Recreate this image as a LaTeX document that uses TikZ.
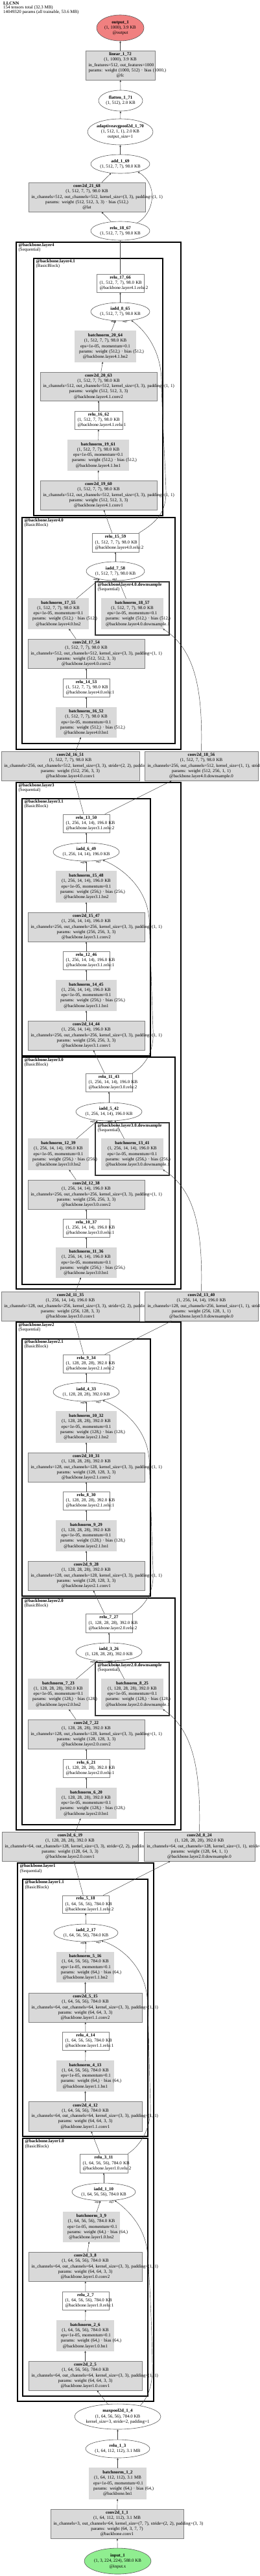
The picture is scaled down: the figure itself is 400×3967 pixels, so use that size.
\documentclass[tikz,border=0pt]{standalone}
\usepackage{fontspec}
\setmainfont{Liberation Serif}
\usetikzlibrary{arrows.meta,shapes.geometric}
\definecolor{gfill}{RGB}{217,217,217}
\definecolor{boxline}{RGB}{128,128,128}
\definecolor{ovline}{RGB}{90,90,90}
\definecolor{edgecol}{RGB}{60,60,60}
\definecolor{outfill}{RGB}{240,128,128}
\definecolor{infill}{RGB}{144,238,144}
\newcommand\zl[1]{\makebox[0pt]{#1}}
\newcommand\BNT[4]{\textbf{#1}\\\mbox{#2}\\\mbox{eps=1e-05, momentum=0.1}\\\mbox{params: weight (#3,) · bias (#3,)}\\\mbox{#4}}
\newcommand\CVT[5]{\textbf{#1}\\\mbox{#2}\\\mbox{#3}\\\mbox{params: weight #4}\\\mbox{#5}}
\newcommand\RLT[3]{\textbf{#1}\\\mbox{#2}\\\mbox{#3}}
\newcommand\OVT[2]{\zl{\textbf{#1}}\\\zl{#2}}
\tikzset{
  nbase/.style={font=\fontsize{6.9}{8.3}\selectfont, align=center, inner ysep=1pt},
  gbox/.style={nbase, rectangle, draw=boxline, fill=gfill, inner xsep=4.5pt, line width=0.6pt},
  wbox/.style={nbase, rectangle, draw=boxline, fill=white, inner xsep=4.5pt, line width=0.6pt},
  bnbox/.style={nbase, rectangle, draw=boxline, fill=gfill, double=gfill, double distance=1.3pt, line width=0.5pt, inner xsep=6pt},
  ovl/.style={nbase, ellipse, draw=ovline, fill=white, inner sep=0pt, line width=0.6pt},
  conn/.style={draw=edgecol, line width=0.45pt, -{Triangle[length=2.8pt,width=2.4pt]}},
  clus/.style={draw=black, line width=1.6pt},
  dsclus/.style={draw=black!80, line width=1.2pt},
  clabel/.style={anchor=north west, align=left, inner sep=0pt, font=\fontsize{6.9}{6.2}\selectfont},
  argl/.style={inner sep=0pt, font=\fontsize{4.5}{5}\selectfont},
}
\begin{document}
\begin{tikzpicture}[x=1pt,y=-1pt]
\useasboundingbox (0,0) rectangle (400,3967);
\fill[white] (0,0) rectangle (400,3967);
\clip (0,0) rectangle (400,3967);

\node[anchor=north west, align=left, inner sep=0pt, font=\fontsize{6.9}{5.8}\selectfont] (title) at (5,3) {\textbf{LLCNN}\\154 tensors total (32.3 MB)\\14049320 params (all trainable, 53.6 MB)};

% clusters
\draw[clus] (25,373) rectangle (279,1154);
\draw[clus] (52,398) rectangle (251,794);
\draw[clus] (34,797) rectangle (270,1145);
\draw[dsclus] (147,896) rectangle (261,978);
\draw[clus] (25,1205) rectangle (279,1985);
\draw[clus] (34,1230) rectangle (232,1626);
\draw[clus] (34,1628) rectangle (270,1978);
\draw[dsclus] (147,1729) rectangle (261,1810);
\draw[clus] (25,2036) rectangle (279,2818);
\draw[clus] (34,2062) rectangle (232,2458);
\draw[clus] (34,2461) rectangle (270,2810);
\draw[dsclus] (147,2560) rectangle (261,2642);
\draw[clus] (27,2869) rectangle (237,3698);
\draw[clus] (35,2894) rectangle (228,3290);
\draw[clus] (35,3293) rectangle (228,3690);

\node[clabel] (lbl_l4) at (28.5,374.7) {\textbf{@backbone.layer4}\\(Sequential)};
\node[clabel] (lbl_l41) at (55.5,399.7) {\textbf{@backbone.layer4.1}\\(BasicBlock)};
\node[clabel] (lbl_l40) at (37.5,798.7) {\textbf{@backbone.layer4.0}\\(BasicBlock)};
\node[clabel] (lbl_l40d) at (150.5,897.7) {\textbf{@backbone.layer4.0.downsample}\\(Sequential)};
\node[clabel] (lbl_l3) at (28.5,1206.7) {\textbf{@backbone.layer3}\\(Sequential)};
\node[clabel] (lbl_l31) at (37.5,1231.7) {\textbf{@backbone.layer3.1}\\(BasicBlock)};
\node[clabel] (lbl_l30) at (37.5,1629.7) {\textbf{@backbone.layer3.0}\\(BasicBlock)};
\node[clabel] (lbl_l30d) at (150.5,1730.7) {\textbf{@backbone.layer3.0.downsample}\\(Sequential)};
\node[clabel] (lbl_l2) at (28.5,2037.7) {\textbf{@backbone.layer2}\\(Sequential)};
\node[clabel] (lbl_l21) at (37.5,2063.7) {\textbf{@backbone.layer2.1}\\(BasicBlock)};
\node[clabel] (lbl_l20) at (37.5,2462.7) {\textbf{@backbone.layer2.0}\\(BasicBlock)};
\node[clabel] (lbl_l20d) at (150.5,2561.7) {\textbf{@backbone.layer2.0.downsample}\\(Sequential)};
\node[clabel] (lbl_l1) at (30.5,2870.7) {\textbf{@backbone.layer1}\\(Sequential)};
\node[clabel] (lbl_l11) at (38.5,2895.7) {\textbf{@backbone.layer1.1}\\(BasicBlock)};
\node[clabel] (lbl_l10) at (38.5,3294.7) {\textbf{@backbone.layer1.0}\\(BasicBlock)};

% head
\node[ovl, fill=outfill, minimum width=73pt, minimum height=40pt] (output_1) at (185.5,43) {\zl{\textbf{output\_1}}\\\zl{(1, 1000), 3.9 KB}\\\zl{@output}};
\node[gbox, minimum width=107pt, text width=98pt, minimum height=45pt] (linear_1_72) at (185.5,100.5) {\textbf{linear\_1\_72}\\\mbox{(1, 1000), 3.9 KB}\\\mbox{in\_features=512, out\_features=1000}\\\mbox{params: weight (1000, 512) · bias (1000,)}\\\mbox{@fc}};
\node[ovl, minimum width=68pt, minimum height=32pt] (flatten_1_71) at (186,155) {\OVT{flatten\_1\_71}{(1, 512), 2.0 KB}};
\node[ovl, minimum width=101pt, minimum height=40pt] (adaptiveavgpool2d_1_70) at (185.5,203) {\zl{\textbf{adaptiveavgpool2d\_1\_70}}\\\zl{(1, 512, 1, 1), 2.0 KB}\\\zl{output\_size=1}};
\node[ovl, minimum width=91pt, minimum height=29pt] (add_1_69) at (185.5,252.5) {\OVT{add\_1\_69}{(1, 512, 7, 7), 98.0 KB}};
\node[gbox, minimum width=180pt, text width=171pt, minimum height=45pt] (conv2d_21_68) at (134,303.5) {\textbf{conv2d\_21\_68}\\\mbox{(1, 512, 7, 7), 98.0 KB}\\\mbox{in\_channels=512, out\_channels=512, kernel\_size=(3, 3), padding=(1, 1)}\\\mbox{params: weight (512, 512, 3, 3) · bias (512,)}\\\mbox{@lat}};
\node[ovl, minimum width=91pt, minimum height=29pt] (relu_18_67) at (185.5,355.5) {\OVT{relu\_18\_67}{(1, 512, 7, 7), 98.0 KB}};

% layer4.1
\node[wbox, minimum width=73pt, text width=64pt, minimum height=28pt] (relu_17_66) at (185.5,436) {\RLT{relu\_17\_66}{(1, 512, 7, 7), 98.0 KB}{@backbone.layer4.1.relu:2}};
\node[ovl, minimum width=91pt, minimum height=28pt] (iadd_8_65) at (185.5,480) {\OVT{iadd\_8\_65}{(1, 512, 7, 7), 98.0 KB}};
\node[bnbox, minimum width=93pt, text width=81pt, minimum height=47pt] (batchnorm_20_64) at (162.5,533.5) {\BNT{batchnorm\_20\_64}{(1, 512, 7, 7), 98.0 KB}{512}{@backbone.layer4.1.bn2}};
\node[gbox, minimum width=180pt, text width=171pt, minimum height=44pt] (conv2d_20_63) at (152,595) {\CVT{conv2d\_20\_63}{(1, 512, 7, 7), 98.0 KB}{in\_channels=512, out\_channels=512, kernel\_size=(3, 3), padding=(1, 1)}{(512, 512, 3, 3)}{@backbone.layer4.1.conv2}};
\node[wbox, minimum width=74pt, text width=65pt, minimum height=28pt] (relu_16_62) at (152,647) {\RLT{relu\_16\_62}{(1, 512, 7, 7), 98.0 KB}{@backbone.layer4.1.relu:1}};
\node[bnbox, minimum width=93pt, text width=81pt, minimum height=46pt] (batchnorm_19_61) at (151.5,701) {\BNT{batchnorm\_19\_61}{(1, 512, 7, 7), 98.0 KB}{512}{@backbone.layer4.1.bn1}};
\node[gbox, minimum width=180pt, text width=171pt, minimum height=45pt] (conv2d_19_60) at (152,762.5) {\CVT{conv2d\_19\_60}{(1, 512, 7, 7), 98.0 KB}{in\_channels=512, out\_channels=512, kernel\_size=(3, 3), padding=(1, 1)}{(512, 512, 3, 3)}{@backbone.layer4.1.conv1}};

% layer4.0
\node[wbox, minimum width=72pt, text width=63pt, minimum height=29pt] (relu_15_59) at (178,835.5) {\RLT{relu\_15\_59}{(1, 512, 7, 7), 98.0 KB}{@backbone.layer4.0.relu:2}};
\node[ovl, minimum width=90pt, minimum height=29pt] (iadd_7_58) at (178,879.5) {\OVT{iadd\_7\_58}{(1, 512, 7, 7), 98.0 KB}};
\node[bnbox, minimum width=94pt, text width=82pt, minimum height=46pt] (batchnorm_18_57) at (204,945) {\BNT{batchnorm\_18\_57}{(1, 512, 7, 7), 98.0 KB}{512}{@backbone.layer4.0.downsample.1}};
\node[bnbox, minimum width=92pt, text width=80pt, minimum height=46pt] (batchnorm_17_55) at (90,945) {\BNT{batchnorm\_17\_55}{(1, 512, 7, 7), 98.0 KB}{512}{@backbone.layer4.0.bn2}};
\node[gbox, minimum width=180pt, text width=171pt, minimum height=45pt] (conv2d_17_54) at (133,1006.5) {\CVT{conv2d\_17\_54}{(1, 512, 7, 7), 98.0 KB}{in\_channels=512, out\_channels=512, kernel\_size=(3, 3), padding=(1, 1)}{(512, 512, 3, 3)}{@backbone.layer4.0.conv2}};
\node[wbox, minimum width=72pt, text width=63pt, minimum height=28pt] (relu_14_53) at (133,1059) {\RLT{relu\_14\_53}{(1, 512, 7, 7), 98.0 KB}{@backbone.layer4.0.relu:1}};
\node[bnbox, minimum width=92pt, text width=80pt, minimum height=45pt] (batchnorm_16_52) at (133,1112.5) {\BNT{batchnorm\_16\_52}{(1, 512, 7, 7), 98.0 KB}{512}{@backbone.layer4.0.bn1}};
\node[gbox, minimum width=213pt, text width=204pt, minimum height=45pt] (conv2d_16_51) at (108.5,1179.5) {\CVT{conv2d\_16\_51}{(1, 512, 7, 7), 98.0 KB}{in\_channels=256, out\_channels=512, kernel\_size=(3, 3), stride=(2, 2), padding=(1, 1)}{(512, 256, 3, 3)}{@backbone.layer4.0.conv1}};
\node[gbox, minimum width=175pt, text width=166pt, minimum height=45pt] (conv2d_18_56) at (310.5,1179.5) {\CVT{conv2d\_18\_56}{(1, 512, 7, 7), 98.0 KB}{in\_channels=256, out\_channels=512, kernel\_size=(1, 1), stride=(2, 2)}{(512, 256, 1, 1)}{@backbone.layer4.0.downsample.0}};

% layer3.1
\node[wbox, minimum width=72pt, text width=63pt, minimum height=28pt] (relu_13_50) at (133,1268) {\RLT{relu\_13\_50}{(1, 256, 14, 14), 196.0 KB}{@backbone.layer3.1.relu:2}};
\node[ovl, minimum width=102pt, minimum height=28pt] (iadd_6_49) at (133,1312) {\OVT{iadd\_6\_49}{(1, 256, 14, 14), 196.0 KB}};
\node[bnbox, minimum width=92pt, text width=80pt, minimum height=47pt] (batchnorm_15_48) at (133,1365.5) {\BNT{batchnorm\_15\_48}{(1, 256, 14, 14), 196.0 KB}{256}{@backbone.layer3.1.bn2}};
\node[gbox, minimum width=180pt, text width=171pt, minimum height=45pt] (conv2d_15_47) at (133,1427.5) {\CVT{conv2d\_15\_47}{(1, 256, 14, 14), 196.0 KB}{in\_channels=256, out\_channels=256, kernel\_size=(3, 3), padding=(1, 1)}{(256, 256, 3, 3)}{@backbone.layer3.1.conv2}};
\node[wbox, minimum width=72pt, text width=63pt, minimum height=28pt] (relu_12_46) at (133,1479) {\RLT{relu\_12\_46}{(1, 256, 14, 14), 196.0 KB}{@backbone.layer3.1.relu:1}};
\node[bnbox, minimum width=92pt, text width=80pt, minimum height=46pt] (batchnorm_14_45) at (133,1533) {\BNT{batchnorm\_14\_45}{(1, 256, 14, 14), 196.0 KB}{256}{@backbone.layer3.1.bn1}};
\node[gbox, minimum width=180pt, text width=171pt, minimum height=45pt] (conv2d_14_44) at (133,1594.5) {\CVT{conv2d\_14\_44}{(1, 256, 14, 14), 196.0 KB}{in\_channels=256, out\_channels=256, kernel\_size=(3, 3), padding=(1, 1)}{(256, 256, 3, 3)}{@backbone.layer3.1.conv1}};

% layer3.0
\node[wbox, minimum width=72pt, text width=63pt, minimum height=28pt] (relu_11_43) at (168,1667) {\RLT{relu\_11\_43}{(1, 256, 14, 14), 196.0 KB}{@backbone.layer3.0.relu:2}};
\node[ovl, minimum width=102pt, minimum height=28pt] (iadd_5_42) at (168,1712) {\OVT{iadd\_5\_42}{(1, 256, 14, 14), 196.0 KB}};
\node[bnbox, minimum width=94pt, text width=82pt, minimum height=47pt] (batchnorm_13_41) at (204,1777.5) {\BNT{batchnorm\_13\_41}{(1, 256, 14, 14), 196.0 KB}{256}{@backbone.layer3.0.downsample.1}};
\node[bnbox, minimum width=92pt, text width=80pt, minimum height=47pt] (batchnorm_12_39) at (90,1777.5) {\BNT{batchnorm\_12\_39}{(1, 256, 14, 14), 196.0 KB}{256}{@backbone.layer3.0.bn2}};
\node[gbox, minimum width=180pt, text width=171pt, minimum height=45pt] (conv2d_12_38) at (133,1839.5) {\CVT{conv2d\_12\_38}{(1, 256, 14, 14), 196.0 KB}{in\_channels=256, out\_channels=256, kernel\_size=(3, 3), padding=(1, 1)}{(256, 256, 3, 3)}{@backbone.layer3.0.conv2}};
\node[wbox, minimum width=72pt, text width=63pt, minimum height=28pt] (relu_10_37) at (133,1891) {\RLT{relu\_10\_37}{(1, 256, 14, 14), 196.0 KB}{@backbone.layer3.0.relu:1}};
\node[bnbox, minimum width=92pt, text width=80pt, minimum height=45pt] (batchnorm_11_36) at (133,1944.5) {\BNT{batchnorm\_11\_36}{(1, 256, 14, 14), 196.0 KB}{256}{@backbone.layer3.0.bn1}};
\node[gbox, minimum width=213pt, text width=204pt, minimum height=45pt] (conv2d_11_35) at (108.5,2011.5) {\CVT{conv2d\_11\_35}{(1, 256, 14, 14), 196.0 KB}{in\_channels=128, out\_channels=256, kernel\_size=(3, 3), stride=(2, 2), padding=(1, 1)}{(256, 128, 3, 3)}{@backbone.layer3.0.conv1}};
\node[gbox, minimum width=175pt, text width=166pt, minimum height=45pt] (conv2d_13_40) at (310.5,2011.5) {\CVT{conv2d\_13\_40}{(1, 256, 14, 14), 196.0 KB}{in\_channels=128, out\_channels=256, kernel\_size=(1, 1), stride=(2, 2)}{(256, 128, 1, 1)}{@backbone.layer3.0.downsample.0}};

% layer2.1
\node[wbox, minimum width=72pt, text width=63pt, minimum height=28pt] (relu_9_34) at (133,2100) {\RLT{relu\_9\_34}{(1, 128, 28, 28), 392.0 KB}{@backbone.layer2.1.relu:2}};
\node[ovl, minimum width=102pt, minimum height=29pt] (iadd_4_33) at (133,2143.5) {\OVT{iadd\_4\_33}{(1, 128, 28, 28), 392.0 KB}};
\node[bnbox, minimum width=92pt, text width=80pt, minimum height=47pt] (batchnorm_10_32) at (133,2197.5) {\BNT{batchnorm\_10\_32}{(1, 128, 28, 28), 392.0 KB}{128}{@backbone.layer2.1.bn2}};
\node[gbox, minimum width=180pt, text width=171pt, minimum height=45pt] (conv2d_10_31) at (133,2259.5) {\CVT{conv2d\_10\_31}{(1, 128, 28, 28), 392.0 KB}{in\_channels=128, out\_channels=128, kernel\_size=(3, 3), padding=(1, 1)}{(128, 128, 3, 3)}{@backbone.layer2.1.conv2}};
\node[wbox, minimum width=72pt, text width=63pt, minimum height=28pt] (relu_8_30) at (133,2311) {\RLT{relu\_8\_30}{(1, 128, 28, 28), 392.0 KB}{@backbone.layer2.1.relu:1}};
\node[bnbox, minimum width=92pt, text width=80pt, minimum height=46pt] (batchnorm_9_29) at (133,2365) {\BNT{batchnorm\_9\_29}{(1, 128, 28, 28), 392.0 KB}{128}{@backbone.layer2.1.bn1}};
\node[gbox, minimum width=180pt, text width=171pt, minimum height=45pt] (conv2d_9_28) at (133,2426.5) {\CVT{conv2d\_9\_28}{(1, 128, 28, 28), 392.0 KB}{in\_channels=128, out\_channels=128, kernel\_size=(3, 3), padding=(1, 1)}{(128, 128, 3, 3)}{@backbone.layer2.1.conv1}};

% layer2.0
\node[wbox, minimum width=72pt, text width=63pt, minimum height=29pt] (relu_7_27) at (168,2499.5) {\RLT{relu\_7\_27}{(1, 128, 28, 28), 392.0 KB}{@backbone.layer2.0.relu:2}};
\node[ovl, minimum width=102pt, minimum height=28pt] (iadd_3_26) at (168,2544) {\OVT{iadd\_3\_26}{(1, 128, 28, 28), 392.0 KB}};
\node[bnbox, minimum width=94pt, text width=82pt, minimum height=46pt] (batchnorm_8_25) at (204,2609) {\BNT{batchnorm\_8\_25}{(1, 128, 28, 28), 392.0 KB}{128}{@backbone.layer2.0.downsample.1}};
\node[bnbox, minimum width=92pt, text width=80pt, minimum height=46pt] (batchnorm_7_23) at (90,2609) {\BNT{batchnorm\_7\_23}{(1, 128, 28, 28), 392.0 KB}{128}{@backbone.layer2.0.bn2}};
\node[gbox, minimum width=180pt, text width=171pt, minimum height=45pt] (conv2d_7_22) at (133,2670.5) {\CVT{conv2d\_7\_22}{(1, 128, 28, 28), 392.0 KB}{in\_channels=128, out\_channels=128, kernel\_size=(3, 3), padding=(1, 1)}{(128, 128, 3, 3)}{@backbone.layer2.0.conv2}};
\node[wbox, minimum width=72pt, text width=63pt, minimum height=28pt] (relu_6_21) at (133,2723) {\RLT{relu\_6\_21}{(1, 128, 28, 28), 392.0 KB}{@backbone.layer2.0.relu:1}};
\node[bnbox, minimum width=92pt, text width=80pt, minimum height=46pt] (batchnorm_6_20) at (133,2777) {\BNT{batchnorm\_6\_20}{(1, 128, 28, 28), 392.0 KB}{128}{@backbone.layer2.0.bn1}};
\node[gbox, minimum width=210pt, text width=201pt, minimum height=45pt] (conv2d_6_19) at (108,2843.5) {\CVT{conv2d\_6\_19}{(1, 128, 28, 28), 392.0 KB}{in\_channels=64, out\_channels=128, kernel\_size=(3, 3), stride=(2, 2), padding=(1, 1)}{(128, 64, 3, 3)}{@backbone.layer2.0.conv1}};
\node[gbox, minimum width=171pt, text width=162pt, minimum height=45pt] (conv2d_8_24) at (307.5,2843.5) {\CVT{conv2d\_8\_24}{(1, 128, 28, 28), 392.0 KB}{in\_channels=64, out\_channels=128, kernel\_size=(1, 1), stride=(2, 2)}{(128, 64, 1, 1)}{@backbone.layer2.0.downsample.0}};

% layer1.1
\node[wbox, minimum width=72pt, text width=63pt, minimum height=27pt] (relu_5_18) at (132,2932.5) {\RLT{relu\_5\_18}{(1, 64, 56, 56), 784.0 KB}{@backbone.layer1.1.relu:2}};
\node[ovl, minimum width=99pt, minimum height=27pt] (iadd_2_17) at (132.5,2976.5) {\OVT{iadd\_2\_17}{(1, 64, 56, 56), 784.0 KB}};
\node[bnbox, minimum width=87pt, text width=75pt, minimum height=45pt] (batchnorm_5_16) at (131.5,3029.5) {\BNT{batchnorm\_5\_16}{(1, 64, 56, 56), 784.0 KB}{64}{@backbone.layer1.1.bn2}};
\node[gbox, minimum width=175pt, text width=166pt, minimum height=45pt] (conv2d_5_15) at (131.5,3091.5) {\CVT{conv2d\_5\_15}{(1, 64, 56, 56), 784.0 KB}{in\_channels=64, out\_channels=64, kernel\_size=(3, 3), padding=(1, 1)}{(64, 64, 3, 3)}{@backbone.layer1.1.conv2}};
\node[wbox, minimum width=72pt, text width=63pt, minimum height=28pt] (relu_4_14) at (132,3143) {\RLT{relu\_4\_14}{(1, 64, 56, 56), 784.0 KB}{@backbone.layer1.1.relu:1}};
\node[bnbox, minimum width=87pt, text width=75pt, minimum height=46pt] (batchnorm_4_13) at (131.5,3197) {\BNT{batchnorm\_4\_13}{(1, 64, 56, 56), 784.0 KB}{64}{@backbone.layer1.1.bn1}};
\node[gbox, minimum width=175pt, text width=166pt, minimum height=46pt] (conv2d_4_12) at (131.5,3259) {\CVT{conv2d\_4\_12}{(1, 64, 56, 56), 784.0 KB}{in\_channels=64, out\_channels=64, kernel\_size=(3, 3), padding=(1, 1)}{(64, 64, 3, 3)}{@backbone.layer1.1.conv1}};

% layer1.0
\node[wbox, minimum width=74pt, text width=65pt, minimum height=29pt] (relu_3_11) at (160,3331.5) {\RLT{relu\_3\_11}{(1, 64, 56, 56), 784.0 KB}{@backbone.layer1.0.relu:2}};
\node[ovl, minimum width=98pt, minimum height=27pt] (iadd_1_10) at (160,3375.5) {\OVT{iadd\_1\_10}{(1, 64, 56, 56), 784.0 KB}};
\node[bnbox, minimum width=86pt, text width=74pt, minimum height=45pt] (batchnorm_3_9) at (141,3429.5) {\BNT{batchnorm\_3\_9}{(1, 64, 56, 56), 784.0 KB}{64}{@backbone.layer1.0.bn2}};
\node[gbox, minimum width=175pt, text width=166pt, minimum height=45pt] (conv2d_3_8) at (131.5,3490.5) {\CVT{conv2d\_3\_8}{(1, 64, 56, 56), 784.0 KB}{in\_channels=64, out\_channels=64, kernel\_size=(3, 3), padding=(1, 1)}{(64, 64, 3, 3)}{@backbone.layer1.0.conv2}};
\node[wbox, minimum width=72pt, text width=63pt, minimum height=28pt] (relu_2_7) at (132,3543) {\RLT{relu\_2\_7}{(1, 64, 56, 56), 784.0 KB}{@backbone.layer1.0.relu:1}};
\node[bnbox, minimum width=87pt, text width=75pt, minimum height=46pt] (batchnorm_2_6) at (131.5,3597) {\BNT{batchnorm\_2\_6}{(1, 64, 56, 56), 784.0 KB}{64}{@backbone.layer1.0.bn1}};
\node[gbox, minimum width=175pt, text width=166pt, minimum height=45pt] (conv2d_2_5) at (131.5,3658.5) {\CVT{conv2d\_2\_5}{(1, 64, 56, 56), 784.0 KB}{in\_channels=64, out\_channels=64, kernel\_size=(3, 3), padding=(1, 1)}{(64, 64, 3, 3)}{@backbone.layer1.0.conv1}};

% stem
\node[ovl, minimum width=133pt, minimum height=39pt] (maxpool2d_1_4) at (181.5,3721.5) {\zl{\textbf{maxpool2d\_1\_4}}\\\zl{(1, 64, 56, 56), 784.0 KB}\\\zl{kernel\_size=3, stride=2, padding=1}};
\node[ovl, minimum width=99pt, minimum height=28pt] (relu_1_3) at (181.5,3771) {\OVT{relu\_1\_3}{(1, 64, 112, 112), 3.1 MB}};
\node[bnbox, minimum width=87pt, text width=75pt, minimum height=47pt] (batchnorm_1_2) at (181.5,3824.5) {\BNT{batchnorm\_1\_2}{(1, 64, 112, 112), 3.1 MB}{64}{@backbone.bn1}};
\node[gbox, minimum width=205pt, text width=196pt, minimum height=45pt] (conv2d_1_1) at (180.5,3886.5) {\CVT{conv2d\_1\_1}{(1, 64, 112, 112), 3.1 MB}{in\_channels=3, out\_channels=64, kernel\_size=(7, 7), stride=(2, 2), padding=(3, 3)}{(64, 3, 7, 7)}{@backbone.conv1}};
\node[ovl, fill=infill, minimum width=103pt, minimum height=40pt] (input_1) at (181.5,3944) {\zl{\textbf{input\_1}}\\\zl{(1, 3, 224, 224), 588.0 KB}\\\zl{@input.x}};

% edges: head
\draw[conn] (linear_1_72) -- (output_1);
\draw[conn] (flatten_1_71) -- (linear_1_72);
\draw[conn] (adaptiveavgpool2d_1_70) -- (flatten_1_71);
\draw[conn] (add_1_69) -- (adaptiveavgpool2d_1_70);
\draw[conn] (conv2d_21_68) -- (add_1_69);
\draw[conn] (relu_18_67) -- (conv2d_21_68);
\draw[conn] (relu_18_67.25) .. controls (238,328) and (245,285) .. (add_1_69.-24);
\draw[conn] (relu_17_66) -- (relu_18_67);
% layer4.1
\draw[conn] (iadd_8_65) -- (relu_17_66);
\draw[conn] (batchnorm_20_64) -- (iadd_8_65.-118);
\draw[conn] (conv2d_20_63) -- (batchnorm_20_64);
\draw[conn] (relu_16_62) -- (conv2d_20_63);
\draw[conn] (batchnorm_19_61) -- (relu_16_62);
\draw[conn] (conv2d_19_60) -- (batchnorm_19_61);
\draw[conn] (relu_15_59) -- (conv2d_19_60);
\draw[conn] (relu_15_59.north east) .. controls (240,805) and (257,790) .. (256,755) .. controls (255,720) and (250,640) .. (249,585) .. controls (248,540) and (225,510) .. (iadd_8_65.-38);
% layer4.0
\draw[conn] (iadd_7_58) -- (relu_15_59);
\draw[conn] (batchnorm_17_55) -- (iadd_7_58.-153);
\draw[conn] (batchnorm_18_57) -- (iadd_7_58.-71);
\draw[conn] (conv2d_17_54) -- (batchnorm_17_55);
\draw[conn] (relu_14_53) -- (conv2d_17_54);
\draw[conn] (batchnorm_16_52) -- (relu_14_53);
\draw[conn] (conv2d_16_51) -- (batchnorm_16_52);
\draw[conn] (conv2d_18_56.north) .. controls (313,1060) and (300,1000) .. (batchnorm_18_57.south east);
\draw[conn] (relu_13_50) -- (conv2d_16_51);
\draw[conn] (relu_13_50) -- (conv2d_18_56);
% layer3.1
\draw[conn] (iadd_6_49) -- (relu_13_50);
\draw[conn] (batchnorm_15_48) -- (iadd_6_49);
\draw[conn] (conv2d_15_47) -- (batchnorm_15_48);
\draw[conn] (relu_12_46) -- (conv2d_15_47);
\draw[conn] (batchnorm_14_45) -- (relu_12_46);
\draw[conn] (conv2d_14_44) -- (batchnorm_14_45);
\draw[conn] (relu_11_43) -- (conv2d_14_44);
\draw[conn] (relu_11_43.north east) .. controls (228,1638) and (238,1615) .. (236,1585) .. controls (234,1530) and (232,1460) .. (230,1415) .. controls (227,1372) and (195,1340) .. (iadd_6_49.-26);
% layer3.0
\draw[conn] (iadd_5_42) -- (relu_11_43);
\draw[conn] (batchnorm_12_39) -- (iadd_5_42.-142);
\draw[conn] (batchnorm_13_41) -- (iadd_5_42.-57);
\draw[conn] (conv2d_12_38) -- (batchnorm_12_39);
\draw[conn] (relu_10_37) -- (conv2d_12_38);
\draw[conn] (batchnorm_11_36) -- (relu_10_37);
\draw[conn] (conv2d_11_35) -- (batchnorm_11_36);
\draw[conn] (conv2d_13_40.north) .. controls (313,1892) and (300,1832) .. (batchnorm_13_41.south east);
\draw[conn] (relu_9_34) -- (conv2d_11_35);
\draw[conn] (relu_9_34) -- (conv2d_13_40);
% layer2.1
\draw[conn] (iadd_4_33) -- (relu_9_34);
\draw[conn] (batchnorm_10_32) -- (iadd_4_33);
\draw[conn] (conv2d_10_31) -- (batchnorm_10_32);
\draw[conn] (relu_8_30) -- (conv2d_10_31);
\draw[conn] (batchnorm_9_29) -- (relu_8_30);
\draw[conn] (conv2d_9_28) -- (batchnorm_9_29);
\draw[conn] (relu_7_27) -- (conv2d_9_28);
\draw[conn] (relu_7_27.north east) .. controls (228,2470) and (238,2447) .. (236,2417) .. controls (234,2362) and (232,2292) .. (230,2247) .. controls (227,2204) and (195,2172) .. (iadd_4_33.-27);
% layer2.0
\draw[conn] (iadd_3_26) -- (relu_7_27);
\draw[conn] (batchnorm_7_23) -- (iadd_3_26.-142);
\draw[conn] (batchnorm_8_25) -- (iadd_3_26.-57);
\draw[conn] (conv2d_7_22) -- (batchnorm_7_23);
\draw[conn] (relu_6_21) -- (conv2d_7_22);
\draw[conn] (batchnorm_6_20) -- (relu_6_21);
\draw[conn] (conv2d_6_19) -- (batchnorm_6_20);
\draw[conn] (conv2d_8_24.north) .. controls (310,2724) and (297,2664) .. (batchnorm_8_25.south east);
\draw[conn] (relu_5_18) -- (conv2d_6_19);
\draw[conn] (relu_5_18) -- (conv2d_8_24);
% layer1.1
\draw[conn] (iadd_2_17) -- (relu_5_18);
\draw[conn] (batchnorm_5_16) -- (iadd_2_17);
\draw[conn] (conv2d_5_15) -- (batchnorm_5_16);
\draw[conn] (relu_4_14) -- (conv2d_5_15);
\draw[conn] (batchnorm_4_13) -- (relu_4_14);
\draw[conn] (conv2d_4_12) -- (batchnorm_4_13);
\draw[conn] (relu_3_11) -- (conv2d_4_12);
\draw[conn] (relu_3_11.north east) .. controls (222,3300) and (234,3270) .. (232,3240) .. controls (230,3180) and (229,3110) .. (227,3075) .. controls (222,3030) and (190,3000) .. (iadd_2_17.-27);
% layer1.0
\draw[conn] (iadd_1_10) -- (relu_3_11);
\draw[conn] (batchnorm_3_9) -- (iadd_1_10.-110);
\draw[conn] (conv2d_3_8) -- (batchnorm_3_9);
\draw[conn] (relu_2_7) -- (conv2d_3_8);
\draw[conn] (batchnorm_2_6) -- (relu_2_7);
\draw[conn] (conv2d_2_5) -- (batchnorm_2_6);
\draw[conn] (maxpool2d_1_4) -- (conv2d_2_5);
\draw[conn] (maxpool2d_1_4.26) .. controls (230,3690) and (236,3670) .. (235,3640) .. controls (234,3580) and (231,3510) .. (227,3465) .. controls (222,3430) and (200,3405) .. (iadd_1_10.-38);
% stem
\draw[conn] (relu_1_3) -- (maxpool2d_1_4);
\draw[conn] (batchnorm_1_2) -- (relu_1_3);
\draw[conn] (conv2d_1_1) -- (batchnorm_1_2);
\draw[conn] (input_1) -- (conv2d_1_1);

% arg labels
\node[argl] (a0_8) at (175,495.5) {arg0};
\node[argl] (a1_8) at (193,495) {arg1};
\node[argl] (a0_7) at (148,892.5) {arg0};
\node[argl] (a1_7) at (177,892) {arg1};
\node[argl] (a0_6) at (128,1328) {arg0};
\node[argl] (a1_6) at (152,1327.5) {arg1};
\node[argl] (a0_5) at (143,1727.5) {arg0};
\node[argl] (a1_5) at (170,1727) {arg1};
\node[argl] (a0_4) at (128,2160) {arg0};
\node[argl] (a1_4) at (152,2159.5) {arg1};
\node[argl] (a0_3) at (143,2559.5) {arg0};
\node[argl] (a1_3) at (170,2559) {arg1};
\node[argl] (a0_2) at (128,2992.5) {arg0};
\node[argl] (a1_2) at (152,2991.5) {arg1};
\node[argl] (a0_1) at (150,3391) {arg0};
\node[argl] (a1_1) at (172,3391) {arg1};
\end{tikzpicture}
\end{document}
